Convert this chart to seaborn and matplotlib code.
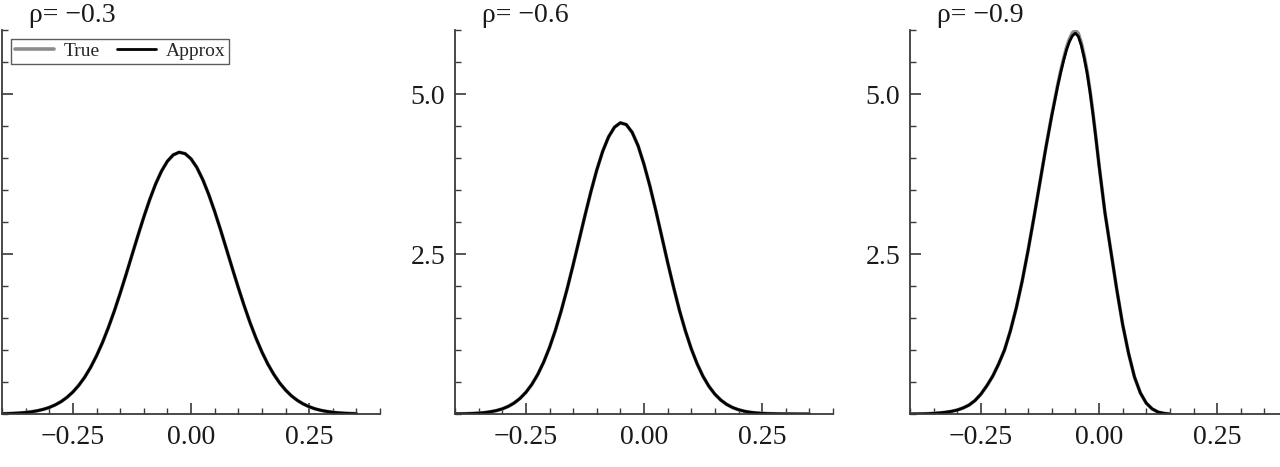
import numpy as np
import pandas as pd
import matplotlib
matplotlib.use("Agg")
import matplotlib.pyplot as plt
from matplotlib.ticker import FixedLocator, MultipleLocator
import seaborn as sns

# ---------------- data ----------------
titles = ["ρ= −0.3", "ρ= −0.6", "ρ= −0.9"]

x_p1 = [-0.4000, -0.3875, -0.3750, -0.3625, -0.3500, -0.3375, -0.3250, -0.3125, -0.3000, -0.2875,
        -0.2750, -0.2625, -0.2500, -0.2375, -0.2250, -0.2125, -0.2000, -0.1875, -0.1750, -0.1625,
        -0.1500, -0.1375, -0.1250, -0.1125, -0.1000, -0.0875, -0.0750, -0.0625, -0.0500, -0.0375,
        -0.0250, -0.0125, 0.0000, 0.0125, 0.0250, 0.0375, 0.0500, 0.0625, 0.0750, 0.0875,
        0.1000, 0.1125, 0.1250, 0.1375, 0.1500, 0.1625, 0.1750, 0.1875, 0.2000, 0.2125,
        0.2250, 0.2375, 0.2500, 0.2625, 0.2750, 0.2875, 0.3000, 0.3125, 0.3250, 0.3375, 0.3500]
approx_p1 = [0.004, 0.007, 0.011, 0.016, 0.024, 0.035, 0.051, 0.073, 0.102, 0.142,
             0.193, 0.260, 0.344, 0.448, 0.575, 0.728, 0.908, 1.114, 1.348, 1.605,
             1.884, 2.178, 2.481, 2.783, 3.075, 3.348, 3.592, 3.794, 3.949, 4.049,
             4.090, 4.068, 3.987, 3.850, 3.661, 3.430, 3.166, 2.879, 2.577, 2.274,
             1.977, 1.693, 1.427, 1.186, 0.971, 0.782, 0.622, 0.486, 0.375, 0.284,
             0.213, 0.157, 0.114, 0.081, 0.057, 0.040, 0.027, 0.018, 0.012, 0.008, 0.005]
true_p1 = [0.004, 0.007, 0.011, 0.016, 0.024, 0.035, 0.051, 0.073, 0.102, 0.142,
           0.193, 0.260, 0.344, 0.448, 0.575, 0.728, 0.908, 1.114, 1.348, 1.605,
           1.884, 2.178, 2.481, 2.783, 3.075, 3.348, 3.592, 3.794, 3.949, 4.049,
           4.090, 4.068, 3.987, 3.850, 3.661, 3.430, 3.166, 2.879, 2.577, 2.274,
           1.977, 1.693, 1.427, 1.186, 0.971, 0.782, 0.622, 0.486, 0.375, 0.284,
           0.213, 0.157, 0.114, 0.081, 0.057, 0.040, 0.027, 0.018, 0.012, 0.008, 0.005]

x_p2 = [-0.4000, -0.3875, -0.3750, -0.3625, -0.3500, -0.3375, -0.3250, -0.3125, -0.3000, -0.2875,
        -0.2750, -0.2625, -0.2500, -0.2375, -0.2250, -0.2125, -0.2000, -0.1875, -0.1750, -0.1625,
        -0.1500, -0.1375, -0.1250, -0.1125, -0.1000, -0.0875, -0.0750, -0.0625, -0.0500, -0.0375,
        -0.0250, -0.0125, 0.0000, 0.0125, 0.0250, 0.0375, 0.0500, 0.0625, 0.0750, 0.0875,
        0.1000, 0.1125, 0.1250, 0.1375, 0.1500, 0.1625, 0.1750, 0.1875, 0.2000, 0.2125,
        0.2250, 0.2375, 0.2500, 0.2625, 0.2750, 0.2875, 0.3000, 0.3125, 0.3250, 0.3375, 0.3500]
approx_p2 = [0.002, 0.003, 0.005, 0.009, 0.014, 0.022, 0.035, 0.053, 0.080, 0.118,
             0.171, 0.243, 0.338, 0.461, 0.616, 0.808, 1.038, 1.309, 1.618, 1.960,
             2.329, 2.713, 3.099, 3.470, 3.811, 4.103, 4.330, 4.481, 4.550, 4.522,
             4.400, 4.191, 3.900, 3.561, 3.180, 2.776, 2.370, 1.984, 1.620, 1.301,
             1.020, 0.783, 0.587, 0.431, 0.310, 0.218, 0.150, 0.101, 0.067, 0.043,
             0.027, 0.017, 0.010, 0.006, 0.004, 0.002, 0.001, 0.001, 0.000, 0.000, 0.000]
true_p2 = [0.002, 0.003, 0.005, 0.009, 0.014, 0.022, 0.035, 0.053, 0.080, 0.118,
           0.171, 0.243, 0.338, 0.461, 0.616, 0.808, 1.038, 1.309, 1.618, 1.960,
           2.329, 2.713, 3.099, 3.470, 3.811, 4.103, 4.330, 4.481, 4.550, 4.522,
           4.400, 4.191, 3.900, 3.561, 3.180, 2.776, 2.370, 1.984, 1.620, 1.301,
           1.020, 0.783, 0.587, 0.431, 0.310, 0.218, 0.150, 0.101, 0.067, 0.043,
           0.027, 0.017, 0.010, 0.006, 0.004, 0.002, 0.001, 0.001, 0.000, 0.000, 0.000]

x_p3 = [-0.40000, -0.38750, -0.37500, -0.36250, -0.35000, -0.33750, -0.32500, -0.31250, -0.30000,
        -0.28750, -0.27500, -0.26250, -0.25000, -0.23750, -0.22500, -0.21250, -0.20000, -0.18750,
        -0.17500, -0.16250, -0.15000, -0.13750, -0.12500, -0.11250, -0.10000, -0.08750, -0.08125,
        -0.07500, -0.06875, -0.06250, -0.05625, -0.05000, -0.04375, -0.03750, -0.03125, -0.02500,
        -0.01875, -0.01250, -0.00625, 0.00000, 0.01250, 0.02500, 0.03750, 0.05000, 0.06250,
        0.07500, 0.08750, 0.10000, 0.11250, 0.12500, 0.13750, 0.15000]
approx_p3 = [0.000, 0.001, 0.002, 0.005, 0.010, 0.017, 0.027, 0.041, 0.062,
             0.095, 0.140, 0.210, 0.310, 0.440, 0.590, 0.780, 1.000, 1.300,
             1.660, 2.080, 2.560, 3.080, 3.620, 4.160, 4.660, 5.120, 5.330,
             5.520, 5.690, 5.820, 5.910, 5.950, 5.900, 5.760, 5.560, 5.320,
             5.020, 4.670, 4.290, 3.890, 3.150, 2.550, 1.950, 1.400, 0.950,
             0.580, 0.330, 0.170, 0.080, 0.030, 0.010, 0.000]
true_p3 = [0.000, 0.001, 0.002, 0.005, 0.010, 0.017, 0.027, 0.041, 0.062,
           0.095, 0.140, 0.210, 0.310, 0.440, 0.590, 0.780, 1.000, 1.300,
           1.660, 2.080, 2.560, 3.080, 3.620, 4.160, 4.670, 5.140, 5.355,
           5.550, 5.725, 5.860, 5.955, 5.995, 5.945, 5.800, 5.595, 5.350,
           5.040, 4.685, 4.300, 3.895, 3.150, 2.550, 1.950, 1.400, 0.950,
           0.580, 0.330, 0.170, 0.080, 0.030, 0.010, 0.000]

xs = [x_p1, x_p2, x_p3]
approxs = [approx_p1, approx_p2, approx_p3]
trues = [true_p1, true_p2, true_p3]

x_major = [-0.25, 0.00, 0.25]
x_labels = ["−0.25", "0.00", "0.25"]
y_major = [2.5, 5.0]
y_labels = ["2.5", "5.0"]

# ---------------- style ----------------
sns.set_theme(style="ticks")
plt.rcParams["font.family"] = ["Liberation Serif", "DejaVu Serif"]
plt.rcParams["axes.unicode_minus"] = True

fig = plt.figure(figsize=(12.8, 4.67), dpi=100)
W, H = 1280, 467
lefts = [2, 455, 910]
bottom_px, top_px = 414, 30
width_px = 378

spine_col = "#3a3a3a"
for i in range(3):
    ax = fig.add_axes([lefts[i] / W, (H - bottom_px) / H, width_px / W, (bottom_px - top_px) / H])
    df = pd.DataFrame({"x": xs[i], "True": trues[i], "Approx": approxs[i]})
    sns.lineplot(data=df, x="x", y="True", ax=ax, color="#8c8c8c", linewidth=2.6,
                 label="True" if i == 0 else None)
    sns.lineplot(data=df, x="x", y="Approx", ax=ax, color="black", linewidth=2.0,
                 label="Approx" if i == 0 else None)
    ax.set_xlim(-0.4, 0.4)
    ax.set_ylim(0, 6)
    ax.set_xlabel("")
    ax.set_ylabel("")
    ax.xaxis.set_major_locator(FixedLocator(x_major))
    ax.set_xticklabels(x_labels)
    ax.xaxis.set_minor_locator(MultipleLocator(0.05))
    ax.yaxis.set_major_locator(FixedLocator(y_major))
    # the first panel's y labels fall outside the image in the reference
    ax.set_yticklabels(y_labels if i > 0 else ["", ""])
    ax.yaxis.set_minor_locator(MultipleLocator(0.5))
    for s in ["top", "right"]:
        ax.spines[s].set_visible(False)
    for s in ["left", "bottom"]:
        ax.spines[s].set_color(spine_col)
        ax.spines[s].set_linewidth(1.3)
    ax.tick_params(axis="both", which="major", direction="in", length=8, width=1.2,
                   color=spine_col, labelsize=20, labelcolor="#1a1a1a")
    ax.tick_params(axis="both", which="minor", direction="in", length=4, width=1.0,
                   color=spine_col)
    ax.tick_params(axis="x", which="major", pad=8)
    ax.tick_params(axis="y", which="major", pad=7)
    ax.text(0.072, 1.005, titles[i], transform=ax.transAxes, ha="left", va="bottom",
            fontsize=20, color="#1a1a1a")
    if i == 0:
        leg = ax.legend(loc="upper left", bbox_to_anchor=(0.0, 1.0), ncol=2, fontsize=14,
                        frameon=True, fancybox=False, edgecolor="#333333",
                        handlelength=2.0, handletextpad=0.5, columnspacing=0.9,
                        borderpad=0.2, borderaxespad=0.45)
        leg.get_frame().set_linewidth(1.0)
    else:
        if ax.get_legend() is not None:
            ax.get_legend().remove()

fig.savefig("out.png", dpi=100)
